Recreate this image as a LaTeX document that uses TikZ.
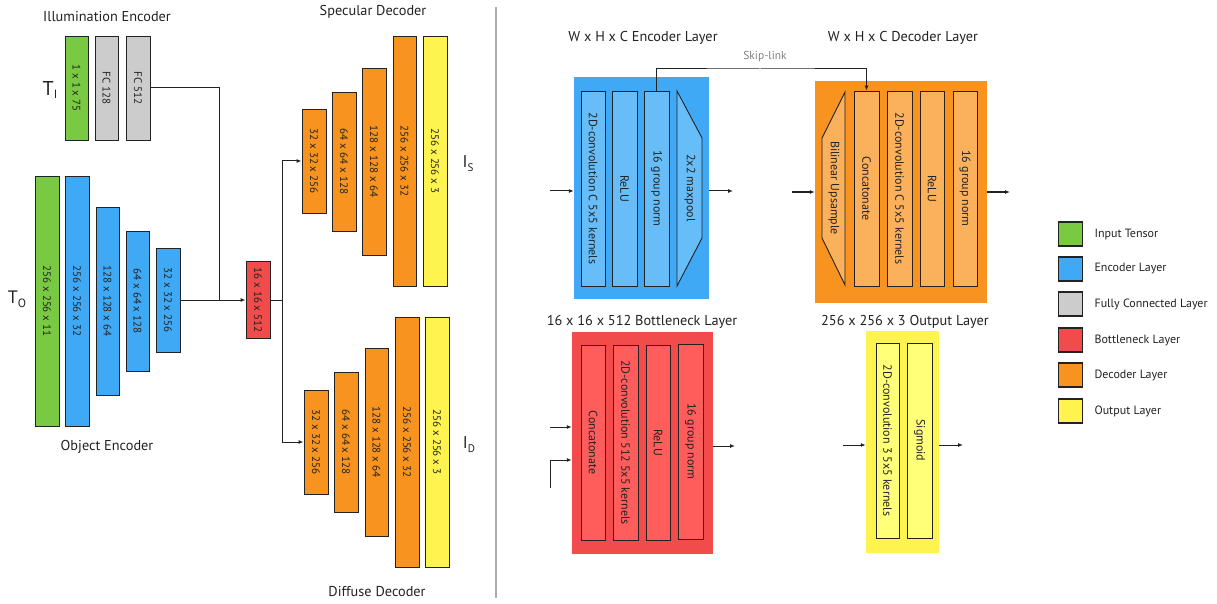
\documentclass[tikz,border=0pt]{standalone}
\usepackage{fontspec}
\setmainfont{PT Sans}
\usetikzlibrary{arrows.meta}
\definecolor{cgreen}{HTML}{7AC943}
\definecolor{cblue}{HTML}{3FA9F5}
\definecolor{cgray}{HTML}{CCCCCC}
\definecolor{cred}{HTML}{F24B4B}
\definecolor{corange}{HTML}{F7931E}
\definecolor{cyellow}{HTML}{FFF44F}
\definecolor{lblue}{HTML}{66BDF8}
\definecolor{lorange}{HTML}{FBB05C}
\definecolor{lred}{HTML}{FF5C5C}
\definecolor{lyellow}{HTML}{FFFF78}
\definecolor{ink}{HTML}{222222}
\newcommand\rottxt[1]{\rotatebox[origin=c]{-90}{#1}}
\begin{document}
\begin{tikzpicture}[x=1pt,y=-1pt,
 lay/.style={draw=ink, line width=0.9pt, inner sep=0pt, text=ink, font=\fontsize{11}{13}\selectfont},
 sublay/.style={draw=ink, line width=0.9pt, inner sep=0pt, text=ink, font=\fontsize{12}{14}\selectfont},
 panel/.style={inner sep=0pt},
 ttl/.style={text=ink, font=\fontsize{14.3}{16}\selectfont},
 conn/.style={line width=1pt, draw=ink},
 arr/.style={conn, -{Latex[length=5pt,width=4pt]}},
 leg/.style={draw=ink, line width=1.3pt, minimum size=24pt, inner sep=0pt},
 legt/.style={anchor=west, text=ink, font=\fontsize{12}{14}\selectfont}
]
\useasboundingbox (0,0) rectangle (1217,604);

% ---------------- left: network ----------------
\node[ttl] (tIllum) at (107,17) {Illumination Encoder};
\node[ttl] (tObj) at (107,447) {Object Encoder};
\node[ttl] (tSpec) at (373,12) {Specular Decoder};
\node[ttl] (tDiff) at (377,592) {Diffuse Decoder};

\node[text=ink] (TI) at (50,90) {\fontsize{20}{20}\selectfont T\raisebox{-3pt}{\fontsize{12}{12}\selectfont I}};
\node[text=ink] (TO) at (17,299) {\fontsize{18}{18}\selectfont T\raisebox{-4pt}{\fontsize{12}{12}\selectfont O}};
\node[text=ink] (IS) at (468,164) {\fontsize{17}{17}\selectfont I\raisebox{-4pt}{\fontsize{11}{11}\selectfont S}};
\node[text=ink] (ID) at (469,445) {\fontsize{17}{17}\selectfont I\raisebox{-4pt}{\fontsize{11}{11}\selectfont D}};

% illumination encoder
\node[lay, fill=cgreen, minimum width=23pt, minimum height=104pt] (tin) at (76.5,88) {\rottxt{1 x 1 x 75}};
\node[lay, fill=cgray, minimum width=23pt, minimum height=104pt] (fc1) at (106.5,88) {\rottxt{FC 128}};
\node[lay, fill=cgray, minimum width=24pt, minimum height=104pt] (fc2) at (138,88) {\rottxt{FC 512}};

% object encoder
\node[lay, fill=cgreen, minimum width=24pt, minimum height=250pt] (oin) at (47,301) {\rottxt{256 x 256 x 11}};
\node[lay, fill=cblue, minimum width=24pt, minimum height=250pt] (e1) at (77,301) {\rottxt{256 x 256 x 32}};
\node[lay, fill=cblue, minimum width=23pt, minimum height=188pt] (e2) at (107.5,301) {\rottxt{128 x 128 x 64}};
\node[lay, fill=cblue, minimum width=23pt, minimum height=140pt] (e3) at (137.5,301) {\rottxt{64 x 64 x 128}};
\node[lay, fill=cblue, minimum width=24pt, minimum height=104pt] (e4) at (168,300) {\rottxt{32 x 32 x 256}};

% bottleneck
\node[lay, fill=cred, minimum width=24pt, minimum height=77pt] (bn) at (258,300) {\rottxt{16 x 16 x 512}};

% specular decoder
\node[lay, fill=corange, minimum width=24pt, minimum height=104pt] (s1) at (314,161) {\rottxt{32 x 32 x 256}};
\node[lay, fill=corange, minimum width=24pt, minimum height=139pt] (s2) at (344,161.5) {\rottxt{64 x 64 x 128}};
\node[lay, fill=corange, minimum width=24pt, minimum height=187pt] (s3) at (374,161.5) {\rottxt{128 x 128 x 64}};
\node[lay, fill=corange, minimum width=23pt, minimum height=250pt] (s4) at (404.5,161) {\rottxt{256 x 256 x 32}};
\node[lay, fill=cyellow, minimum width=24pt, minimum height=250pt] (s5) at (435,161) {\rottxt{256 x 256 x 3}};

% diffuse decoder
\node[lay, fill=corange, minimum width=24pt, minimum height=104pt] (d1) at (316,442) {\rottxt{32 x 32 x 256}};
\node[lay, fill=corange, minimum width=24pt, minimum height=140pt] (d2) at (346,442) {\rottxt{64 x 64 x 128}};
\node[lay, fill=corange, minimum width=23pt, minimum height=188pt] (d3) at (376.5,442) {\rottxt{128 x 128 x 64}};
\node[lay, fill=corange, minimum width=24pt, minimum height=250pt] (d4) at (407,442) {\rottxt{256 x 256 x 32}};
\node[lay, fill=cyellow, minimum width=24pt, minimum height=250pt] (d5) at (437,442) {\rottxt{256 x 256 x 3}};

% connectors
\coordinate (j1) at (219,300);
\coordinate (j2) at (282,300);
\draw[conn] (fc2.east) -| (j1);
\draw[arr] (e4.east) -- (bn.west);
\draw[conn] (bn.east) -- (j2);
\draw[arr] (j2) |- (s1.west);
\draw[arr] (j2) |- (d1.west);

% separator
\coordinate (sepT) at (496,7);
\coordinate (sepB) at (496,598);
\draw[line width=1.8pt, draw=black!33] (sepT) -- (sepB);

% ---------------- right: layer details ----------------
% encoder layer
\node[ttl] (tEnc) at (643,38) {W x H x C Encoder Layer};
\node[panel, fill=cblue, minimum width=135pt, minimum height=222pt] (enc) at (641.5,188) {};
\node[sublay, fill=lblue, minimum width=24pt, minimum height=195pt] (ec1) at (593,188.5) {\rottxt{2D-convolution C 5x5 kernels}};
\node[sublay, fill=lblue, minimum width=25pt, minimum height=195pt] (ec2) at (624.5,188.5) {\rottxt{ReLU}};
\node[sublay, fill=lblue, minimum width=25pt, minimum height=195pt] (ec3) at (656.5,188.5) {\rottxt{16 group norm}};
\draw[draw=ink, line width=0.9pt, fill=lblue] (677,91) -- (702,138) -- (702,238) -- (677,286) -- cycle;
\node[text=ink, font=\fontsize{12}{14}\selectfont] (mp) at (690,188) {\rottxt{2x2 maxpool}};
\coordinate (ein) at (550,191);
\coordinate (eout) at (733,191);
\draw[arr] (ein) -- (ein -| enc.west);
\draw[arr] (eout -| enc.east) -- (eout);

% decoder layer
\node[ttl] (tDec) at (903,38) {W x H x C Decoder Layer};
\node[panel, fill=corange, minimum width=172pt, minimum height=222pt] (dec) at (901,192) {};
\draw[draw=ink, line width=0.9pt, fill=lorange] (845,92) -- (845,285) -- (822,238) -- (822,138) -- cycle;
\node[text=ink, font=\fontsize{12}{14}\selectfont] (up) at (834,188) {\rottxt{Bilinear Upsample}};
\node[sublay, fill=lorange, minimum width=25pt, minimum height=195pt] (dc1) at (866.5,188.5) {\rottxt{Concatonate}};
\node[sublay, fill=lorange, minimum width=25pt, minimum height=195pt] (dc2) at (899.5,188.5) {\rottxt{2D-convolution C 5x5 kernels}};
\node[sublay, fill=lorange, minimum width=24pt, minimum height=195pt] (dc3) at (932,188.5) {\rottxt{ReLU}};
\node[sublay, fill=lorange, minimum width=24pt, minimum height=195pt] (dc4) at (965,188.5) {\rottxt{16 group norm}};
\coordinate (din) at (792,192);
\coordinate (dout) at (1010,192);
\draw[arr] (din) -- (din -| dec.west);
\draw[arr] (dout -| dec.east) -- (dout);

% skip link
\coordinate (sk) at (760,69);
\draw[arr] (ec3.north) |- (sk) -| (dc1.north);
\node[text=black!50, font=\fontsize{11.5}{13}\selectfont] (skl) at (765,57) {Skip-link};

% bottleneck layer
\node[ttl] (tBn) at (642,322) {16 x 16 x 512 Bottleneck Layer};
\node[panel, fill=cred, minimum width=141pt, minimum height=222pt] (bnp) at (642.5,443) {};
\node[sublay, fill=lred, minimum width=24pt, minimum height=195pt] (b1) at (593,442.5) {\rottxt{Concatonate}};
\node[sublay, fill=lred, minimum width=25pt, minimum height=195pt] (b2) at (625.5,442.5) {\rottxt{2D-convolution 512 5x5 kernels}};
\node[sublay, fill=lred, minimum width=24pt, minimum height=195pt] (b3) at (658,442.5) {\rottxt{ReLU}};
\node[sublay, fill=lred, minimum width=25pt, minimum height=195pt] (b4) at (690.5,441.5) {\rottxt{16 group norm}};
\coordinate (bin1) at (550,427);
\coordinate (bin2) at (550,488);
\coordinate (bin2t) at (550,460);
\coordinate (bout) at (735,446);
\draw[arr] (bin1) -- (bin1 -| bnp.west);
\draw[arr] (bin2) -- (bin2t) -- (bin2t -| bnp.west);
\draw[arr] (bout -| bnp.east) -- (bout);

% output layer
\node[ttl] (tOut) at (905,322) {256 x 256 x 3 Output Layer};
\node[panel, fill=cyellow, minimum width=73pt, minimum height=222pt] (outp) at (902.5,442) {};
\node[sublay, fill=lyellow, minimum width=23pt, minimum height=195pt] (o1) at (887.5,440.5) {\rottxt{2D-convolution 3 5x5 kernels}};
\node[sublay, fill=lyellow, minimum width=25pt, minimum height=195pt] (o2) at (919.5,440.5) {\rottxt{Sigmoid}};
\coordinate (oin) at (843,445);
\coordinate (oout) at (963,445);
\draw[arr] (oin) -- (oin -| outp.west);
\draw[arr] (oout -| outp.east) -- (oout);

% legend
\node[leg, fill=cgreen] (l1) at (1070.5,234) {};
\node[leg, fill=cblue] (l2) at (1070.5,269) {};
\node[leg, fill=cgray] (l3) at (1070.5,304) {};
\node[leg, fill=cred] (l4) at (1070.5,340) {};
\node[leg, fill=corange] (l5) at (1070.5,375) {};
\node[leg, fill=cyellow] (l6) at (1070.5,411) {};
\node[legt] (lt1) at (1091,234) {Input Tensor};
\node[legt] (lt2) at (1091,269) {Encoder Layer};
\node[legt] (lt3) at (1091,304) {Fully Connected Layer};
\node[legt] (lt4) at (1091,340) {Bottleneck Layer};
\node[legt] (lt5) at (1091,375) {Decoder Layer};
\node[legt] (lt6) at (1091,411) {Output Layer};
\end{tikzpicture}
\end{document}
